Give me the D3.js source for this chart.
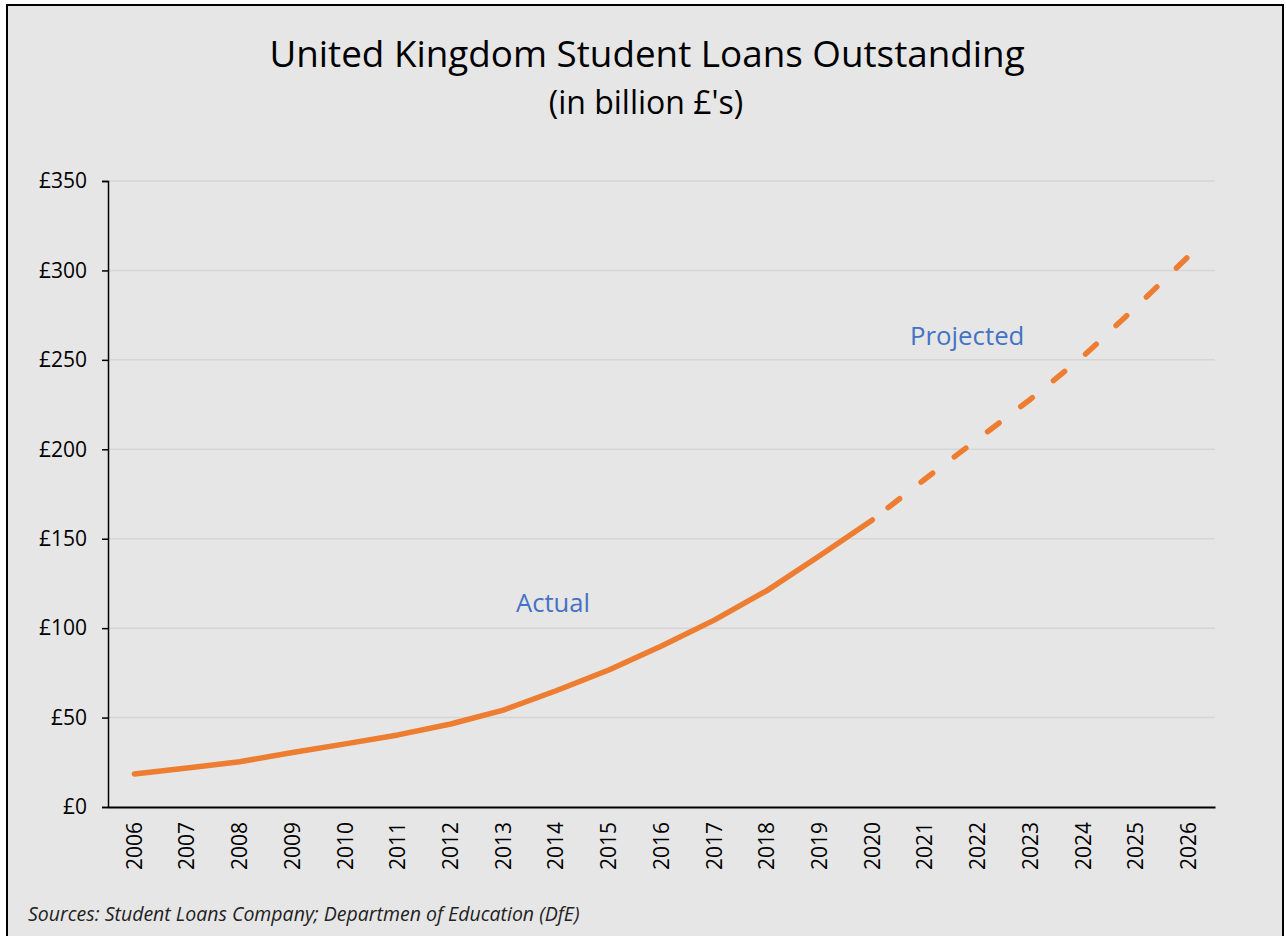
<!DOCTYPE html>
<html>
<head>
<meta charset="utf-8">
<script src="https://cdn.jsdelivr.net/npm/d3@7"></script>
<style>
  html, body { margin: 0; padding: 0; background: #ffffff; }
  svg { display: block; font-family: "Open Sans", Lato, sans-serif; }
</style>
</head>
<body>
<svg id="chart" width="1286" height="936"></svg>
<script>
// Student loans outstanding, billion £
const years = ["2006","2007","2008","2009","2010","2011","2012","2013","2014","2015","2016",
               "2017","2018","2019","2020","2021","2022","2023","2024","2025","2026"];
const actualYears = years.slice(0, 15);          // 2006–2020
const actualValues = [18.5, 21.8, 25.3, 30.5, 35.3, 40.3, 46.4, 54.2, 65, 76.6, 90, 104.5, 121, 140.5, 160.5];
const projectedYears = years.slice(14);          // 2020–2026
const projectedValues = [160.5, 183.4, 205.7, 228, 252, 279.5, 308];
const yTicks = [0, 50, 100, 150, 200, 250, 300, 350];

const svg = d3.select("#chart");
const W = 1286, H = 936;
const plotLeft = 108, plotRight = 1215, plotTop = 181, plotBottom = 807;

// panel background and frame
svg.append("rect").attr("x", 0).attr("y", 0).attr("width", W).attr("height", H).attr("fill", "#ffffff");
svg.append("rect").attr("x", 7).attr("y", 5).attr("width", 1276).attr("height", 960)
  .attr("fill", "#e7e6e6").attr("stroke", "#000").attr("stroke-width", 2);

const x = d3.scaleBand().domain(years).range([plotLeft, plotRight]);
const y = d3.scaleLinear().domain([0, 350]).range([plotBottom, plotTop]);
const cx = d => x(d) + x.bandwidth() / 2;

// horizontal gridlines
svg.append("g").selectAll("line").data(yTicks.slice(1)).join("line")
  .attr("x1", plotLeft).attr("x2", plotRight)
  .attr("y1", d => y(d)).attr("y2", d => y(d))
  .attr("stroke", "#d6d5d5").attr("stroke-width", 1.5);

// y axis
const yAxis = svg.append("g").attr("transform", `translate(${plotLeft},0)`)
  .call(d3.axisLeft(y).tickValues(yTicks).tickFormat(d => "£" + d).tickSize(6).tickPadding(15));
yAxis.select(".domain").attr("stroke", "#000").attr("stroke-width", 1.5);
yAxis.selectAll(".tick line").attr("stroke", "#000").attr("stroke-width", 1.5);
yAxis.selectAll("text").attr("font-size", 21).attr("fill", "#000").attr("font-family", "Open Sans");

// x axis
const xAxis = svg.append("g").attr("transform", `translate(0,${plotBottom})`)
  .call(d3.axisBottom(x).tickSize(0).tickPadding(0));
xAxis.select(".domain").attr("stroke", "#000").attr("stroke-width", 2);
xAxis.selectAll(".tick text")
  .attr("font-size", 21).attr("fill", "#000").attr("font-family", "Open Sans")
  .attr("transform", "rotate(-90)")
  .attr("text-anchor", "end")
  .attr("x", -15).attr("y", 0).attr("dy", "0.35em");

// loan balance lines: solid for actual, dashed for projected
const line = d3.line().x(d => cx(d[0])).y(d => y(d[1]));
svg.append("path")
  .datum(d3.zip(actualYears, actualValues))
  .attr("d", line).attr("fill", "none")
  .attr("stroke", "#ed7d31").attr("stroke-width", 5.5)
  .attr("stroke-linecap", "round").attr("stroke-linejoin", "round");
svg.append("path")
  .datum(d3.zip(projectedYears, projectedValues))
  .attr("d", line).attr("fill", "none")
  .attr("stroke", "#ed7d31").attr("stroke-width", 5.5)
  .attr("stroke-linecap", "round").attr("stroke-linejoin", "round")
  .attr("stroke-dasharray", "14.5,27.2").attr("stroke-dashoffset", 21.7);

// series annotations
svg.append("text").attr("x", 516).attr("y", 612).text("Actual")
  .attr("font-size", 25.6).attr("fill", "#4472c4");
svg.append("text").attr("x", 910).attr("y", 345).text("Projected")
  .attr("font-size", 25.8).attr("fill", "#4472c4");

// titles
svg.append("text").attr("x", 647).attr("y", 67).attr("text-anchor", "middle")
  .attr("font-size", 36.8).attr("fill", "#000").text("United Kingdom Student Loans Outstanding");
svg.append("text").attr("x", 646).attr("y", 114).attr("text-anchor", "middle")
  .attr("font-size", 32).attr("fill", "#000").text("(in billion £'s)");

// source note
svg.append("text").attr("x", 28).attr("y", 921)
  .attr("font-size", 19.5).attr("font-style", "italic").attr("fill", "#222")
  .text("Sources: Student Loans Company; Departmen of Education (DfE)");
</script>
</body>
</html>
